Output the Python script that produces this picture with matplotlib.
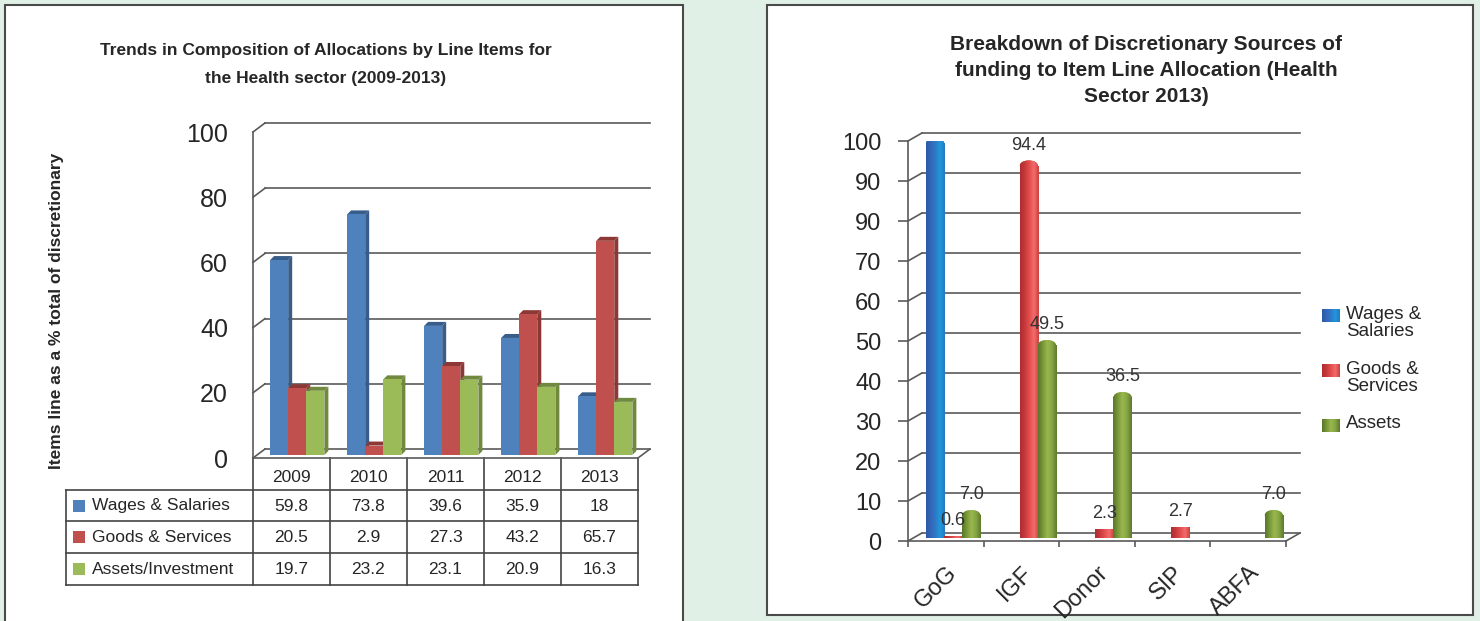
import numpy as np
import matplotlib.pyplot as plt
from matplotlib.patches import Rectangle, Polygon, Ellipse
from matplotlib.colors import LinearSegmentedColormap

plt.rcParams['font.family'] = ['Liberation Sans', 'DejaVu Sans']

# allocations by line item, health sector 2009-2013 (% of discretionary)
years = ['2009', '2010', '2011', '2012', '2013']
item_names = ['Wages & Salaries', 'Goods & Services', 'Assets/Investment']
wages = [59.8, 73.8, 39.6, 35.9, 18]
goods = [20.5, 2.9, 27.3, 43.2, 65.7]
assets = [19.7, 23.2, 23.1, 20.9, 16.3]
trend_ticks = [0, 20, 40, 60, 80, 100]

# discretionary sources of funding, 2013
sources = ['GoG', 'IGF', 'Donor', 'SIP', 'ABFA']
src_names = ['Wages &\nSalaries', 'Goods &\nServices', 'Assets']
src_wages = [100, 0, 0, 0, 0]
src_goods = [0.6, 94.4, 2.3, 2.7, 0]
src_assets = [7.0, 49.5, 36.5, 0, 7.0]
src_ticks = [0, 10, 20, 30, 40, 50, 60, 70, 80, 90, 100]
src_ticklabels = ['0', '10', '20', '30', '40', '50', '60', '70', '90', '90', '100']

W, H = 1480, 621
TXT = '#262626'
GRID = '#5a5a5a'

fig = plt.figure(figsize=(W / 100, H / 100), dpi=100, facecolor='#e1f0e6')


def px_axes(l, t, r, b):
    ax = fig.add_axes([l / W, 1 - b / H, (r - l) / W, (b - t) / H])
    ax.patch.set_visible(False)
    for s in ax.spines.values():
        s.set_visible(False)
    ax.set_zorder(2)
    return ax


bg = fig.add_axes([0, 0, 1, 1])
bg.set_xlim(0, W)
bg.set_ylim(H, 0)
bg.axis('off')
bg.add_patch(Rectangle((5, 5), 678, 640, fc='white', ec='#4a4a4a', lw=1.5))
bg.add_patch(Rectangle((767, 5), 706, 610, fc='white', ec='#4a4a4a', lw=1.5))

# ---------------- left panel ----------------
bg.text(326, 50, 'Trends in Composition of Allocations by Line Items for',
        ha='center', va='center', fontsize=12.5, fontweight='bold', color=TXT)
bg.text(326, 78, 'the Health sector (2009-2013)',
        ha='center', va='center', fontsize=12.5, fontweight='bold', color=TXT)
bg.text(57, 311, 'Items line as a % total of discretionary', rotation=90,
        ha='center', va='center', fontsize=12.5, fontweight='bold', color=TXT)

L, R, Y0, Y100 = 253, 638, 458, 132
axL = px_axes(L, Y100, R, Y0)
xpu = (R - L) / 5
ypu = (Y0 - Y100) / 100
wdx, wdy = 12 / xpu, 9 / ypu

for t in trend_ticks:
    axL.plot([wdx, 5 + wdx], [t + wdy] * 2, color=GRID, lw=1.2, clip_on=False, zorder=1)
    axL.plot([0, wdx], [t, t + wdy], color=GRID, lw=1.2, clip_on=False, zorder=1)
axL.plot([0, 0], [0, 100], color=GRID, lw=1.2, clip_on=False, zorder=1)
axL.plot([0, 5], [0, 0], color=GRID, lw=1.2, clip_on=False, zorder=1)
axL.plot([5, 5 + wdx], [0, wdy], color=GRID, lw=1.2, clip_on=False, zorder=1)

series = [(wages, '#4f81bd', '#385d8a'),
          (goods, '#c0504d', '#8c3836'),
          (assets, '#9bbb59', '#71893f')]
bw = 0.235
sdx, sdy = 4 / xpu, 3 / ypu      # where the bars sit inside the floor depth
ddx, ddy = 4 / xpu, 4 / ypu      # bar thickness
z = 2
for i in range(len(years)):
    for j, (vals, fc, sc) in enumerate(series):
        v = vals[i]
        x0 = i + 0.17 + j * bw + sdx
        b = sdy
        axL.add_patch(Polygon([(x0 + bw, b), (x0 + bw + ddx, b + ddy),
                               (x0 + bw + ddx, b + v + ddy), (x0 + bw, b + v)],
                              closed=True, fc=sc, ec='none', zorder=z, clip_on=False))
        axL.add_patch(Polygon([(x0, b + v), (x0 + ddx, b + v + ddy),
                               (x0 + bw + ddx, b + v + ddy), (x0 + bw, b + v)],
                              closed=True, fc=sc, ec='none', zorder=z, clip_on=False))
        axL.bar(x0, v, bw, bottom=b, align='edge', color=fc, zorder=z + 0.5, clip_on=False)
        z += 1

axL.set_xlim(0, 5)
axL.set_ylim(0, 100)
axL.set_xticks([])
axL.set_yticks(trend_ticks)
axL.tick_params(axis='y', length=0, pad=18, labelsize=18, labelcolor=TXT)

# data table under the chart
cols = [L + k * xpu for k in range(6)]
rows = [458, 490, 521, 553, 585]
tc = '#444444'
for y in rows[1:]:
    bg.plot([66, cols[-1]], [y, y], color=tc, lw=1.2)
for x in cols:
    bg.plot([x, x], [rows[0], rows[-1]], color=tc, lw=1.2)
bg.plot([66, 66], [rows[1], rows[-1]], color=tc, lw=1.2)
for k, yr in enumerate(years):
    bg.text((cols[k] + cols[k + 1]) / 2, (rows[0] + rows[1]) / 2 + 4, yr,
            ha='center', va='center', fontsize=12.5, color=TXT)
for r, (name, (vals, fc, sc)) in enumerate(zip(item_names, series)):
    yc = (rows[r + 1] + rows[r + 2]) / 2
    bg.add_patch(Rectangle((73, yc - 6), 12, 12, fc=fc, ec='none'))
    bg.text(92, yc, name, ha='left', va='center', fontsize=12.5, color=TXT)
    for k, v in enumerate(vals):
        bg.text((cols[k] + cols[k + 1]) / 2, yc + 1, f'{v:g}',
                ha='center', va='center', fontsize=12.5, color=TXT)

# ---------------- right panel ----------------
for y, line in zip([45, 71, 97], ['Breakdown of Discretionary Sources of',
                                  'funding to Item Line Allocation (Health',
                                  'Sector 2013)']):
    bg.text(1146, y, line, ha='center', va='center', fontsize=15,
            fontweight='bold', color=TXT)

RL, RR, RY0, RY100 = 908, 1286, 541, 141
axR = px_axes(RL, RY100, RR, RY0)
rxpu = (RR - RL) / 5
rypu = (RY0 - RY100) / 100
rwdx, rwdy = 14 / rxpu, 8 / rypu

for t in src_ticks:
    axR.plot([rwdx, 5 + rwdx], [t + rwdy] * 2, color=GRID, lw=1.2, clip_on=False, zorder=1)
    axR.plot([0, rwdx], [t, t + rwdy], color=GRID, lw=1.2, clip_on=False, zorder=1)
axR.plot([0, 0], [0, 100], color=GRID, lw=1.2, clip_on=False, zorder=1)
axR.plot([0, 5], [0, 0], color=GRID, lw=1.2, clip_on=False, zorder=1)
axR.plot([5, 5 + rwdx], [0, rwdy], color=GRID, lw=1.2, clip_on=False, zorder=1)

cyl_maps = [
    LinearSegmentedColormap.from_list('cb', ['#2b5aa6', '#3467b8', '#2f7ac8', '#1d98dc', '#2a78c4']),
    LinearSegmentedColormap.from_list('cr', ['#b02c2e', '#c63a3c', '#e44e4e', '#f36c6c', '#cc4042']),
    LinearSegmentedColormap.from_list('cg', ['#5a7629', '#789838', '#9ab84e', '#86a443', '#5c7a2c']),
]
grad = np.linspace(0, 1, 64).reshape(1, -1)
src_series = [src_wages, src_goods, src_assets]
cw = 0.24
csy = 3 / rypu
cap = 1.3
z = 3
for i in range(len(sources)):
    for j, vals in enumerate(src_series):
        v = vals[i]
        if v <= 0:
            continue
        x0 = i + 0.238 + j * cw
        body = v - cap if v > 5 else v
        bar = axR.bar(x0, body, cw, bottom=csy, align='edge',
                      color=cyl_maps[j](0.5), zorder=z, clip_on=False)[0]
        im = axR.imshow(grad, cmap=cyl_maps[j], extent=(x0, x0 + cw, csy, csy + body),
                        aspect='auto', interpolation='bilinear', zorder=z + 0.1)
        im.set_clip_path(bar)
        if v > 5:
            dome = Ellipse((x0 + cw / 2, csy + body), cw, 2 * cap,
                           fc=cyl_maps[j](0.5), ec='none', zorder=z)
            axR.add_patch(dome)
            im2 = axR.imshow(grad, cmap=cyl_maps[j],
                             extent=(x0, x0 + cw, csy + body - cap, csy + body + cap),
                             aspect='auto', interpolation='bilinear', zorder=z + 0.1)
            im2.set_clip_path(dome)
        lab = f'{v:g}' if v >= 100 else f'{v:.1f}'
        axR.annotate(lab, xy=(x0 + cw / 2, csy + v), xytext=(0, 11),
                     textcoords='offset points', ha='center', va='center',
                     fontsize=13, color='#333333', zorder=20)
        z += 1

axR.set_xlim(0, 5)
axR.set_ylim(0, 100)
axR.set_yticks(src_ticks)
axR.set_yticklabels(src_ticklabels)
axR.tick_params(axis='y', length=7.2, width=1.2, color=GRID, pad=12,
                labelsize=17, labelcolor=TXT)
axR.set_xticks(np.arange(len(sources)) + 0.5)
axR.set_xticklabels(sources, rotation=45, ha='right', rotation_mode='anchor')
axR.set_xticks(np.arange(6), minor=True)
axR.tick_params(axis='x', which='major', length=0, pad=15, labelsize=17, labelcolor=TXT)
axR.tick_params(axis='x', which='minor', length=4.5, width=1.2, color=GRID)

# legend
leg_y = [315, 370, 425]
for k, (name, cm) in enumerate(zip(src_names, cyl_maps)):
    yt = leg_y[k] - 6
    bg.imshow(grad, cmap=cm, extent=(1322, 1340, yt + 13, yt),
              aspect='auto', interpolation='bilinear', zorder=3)
    bg.text(1346, leg_y[k] - 1 if '\n' not in name else leg_y[k] + 8, name,
            ha='left', va='center', fontsize=13.5, color=TXT, linespacing=1.05)
bg.set_xlim(0, W)
bg.set_ylim(H, 0)

fig.savefig('out.png', dpi=100, facecolor=fig.get_facecolor())
